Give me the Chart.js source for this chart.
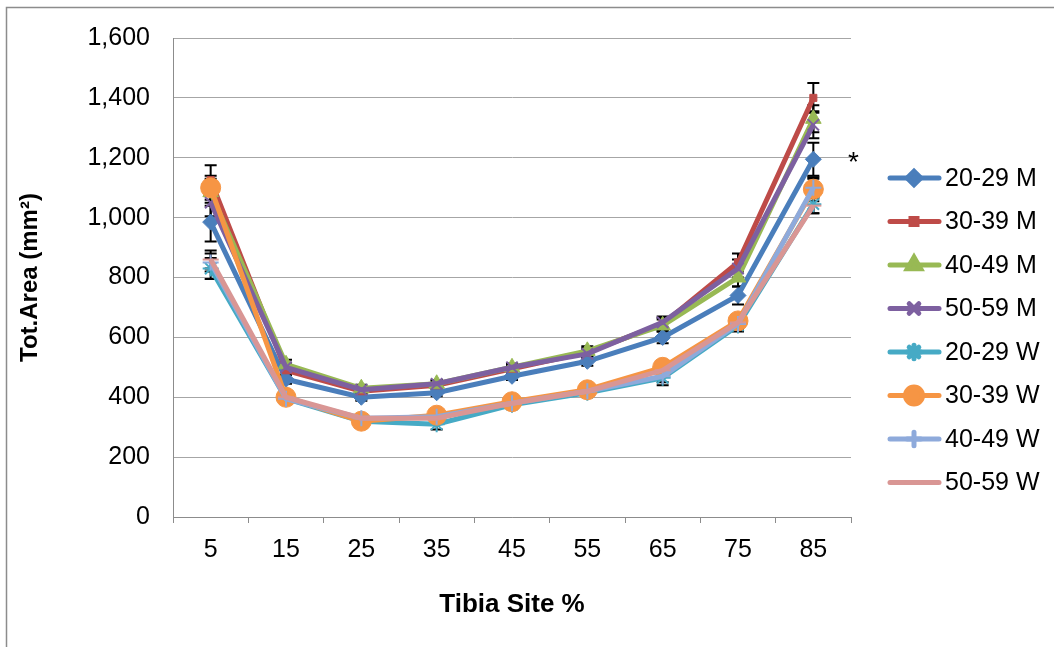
<!DOCTYPE html>
<html>
<head>
<meta charset="utf-8">
<script src="https://cdn.jsdelivr.net/npm/chart.js@4.4.0/dist/chart.umd.min.js"></script>
<style>
  body { margin: 0; background: #fff; }
  canvas { display: block; }
</style>
</head>
<body>
<canvas id="areaChart" width="1054" height="647"></canvas>
<script>
// Tibia total area by site, age group and sex
const sites = ['5', '15', '25', '35', '45', '55', '65', '75', '85'];
const groups = ['20-29 M', '30-39 M', '40-49 M', '50-59 M', '20-29 W', '30-39 W', '40-49 W', '50-59 W'];

const m2029 = [985, 460, 400, 415, 470, 520, 600, 740, 1195];
const m3039 = [1125, 490, 420, 440, 495, 550, 645, 850, 1400];
const m4049 = [1085, 510, 430, 445, 500, 555, 640, 800, 1330];
const m5059 = [1050, 500, 425, 445, 500, 545, 650, 830, 1310];
const w2029 = [830, 395, 320, 310, 375, 415, 465, 640, 1045];
const w3039 = [1100, 400, 320, 340, 385, 425, 500, 655, 1095];
const w4049 = [850, 395, 330, 335, 380, 420, 470, 645, 1100];
const w5059 = [860, 400, 330, 330, 380, 420, 490, 650, 1040];

// +/- error per point
const e2029m = [65, 15, 12, 12, 12, 15, 20, 30, 55];
const e3039m = [50, 15, 12, 12, 12, 15, 20, 30, 50];
const e4049m = [45, 15, 12, 12, 12, 15, 20, 30, 45];
const e5059m = [45, 15, 12, 12, 12, 15, 20, 30, 45];
const e2029w = [35, 12, 10, 18, 10, 12, 25, 20, 30];
const e3039w = [40, 12, 10, 12, 10, 12, 20, 20, 40];
const e4049w = [30, 12, 10, 12, 10, 12, 20, 20, 30];
const e5059w = [30, 12, 10, 12, 10, 12, 20, 20, 25];

const yTicks = { min: 0, max: 1600, step: 200 };

const series = [m2029, m3039, m4049, m5059, w2029, w3039, w4049, w5059];
const errors = [e2029m, e3039m, e4049m, e5059m, e2029w, e3039w, e4049w, e5059w];
const colors = ['#4a7ebb', '#be4b48', '#98b954', '#7d60a0', '#46aac5', '#f69544', '#8eaadb', '#d99694'];
const markers = [
  { style: 'rectRot', r: 8 },
  { style: 'rect', r: 5 },
  { style: 'triangle', r: 9 },
  { style: 'crossRot', r: 8 },
  { style: 'star', r: 8 },
  { style: 'circle', r: 10 },
  { style: 'cross', r: 8 },
  { style: 'line', r: 8 }
];

const FONT = "'Liberation Sans', Arial, sans-serif";

const errorBars = {
  id: 'errorBars',
  beforeDatasetsDraw(chart) {
    const { ctx, scales: { x, y } } = chart;
    ctx.save();
    ctx.strokeStyle = '#000';
    ctx.lineWidth = 2;
    series.forEach((vals, s) => {
      vals.forEach((v, i) => {
        const px = x.getPixelForValue(i);
        const top = y.getPixelForValue(v + errors[s][i]);
        const bot = y.getPixelForValue(v - errors[s][i]);
        ctx.beginPath();
        ctx.moveTo(px, top); ctx.lineTo(px, bot);
        ctx.moveTo(px - 6, top); ctx.lineTo(px + 6, top);
        ctx.moveTo(px - 6, bot); ctx.lineTo(px + 6, bot);
        ctx.stroke();
      });
    });
    ctx.restore();
  }
};

const frame = {
  id: 'frame',
  beforeDraw(chart) {
    const ctx = chart.ctx;
    ctx.save();
    ctx.fillStyle = '#fff';
    ctx.fillRect(0, 0, chart.width, chart.height);
    ctx.strokeStyle = '#8c8c8c';
    ctx.lineWidth = 1.5;
    ctx.strokeRect(6.5, 7.5, 1100, 700);
    ctx.restore();
  },
  afterDraw(chart) {
    const { ctx, scales: { x, y } } = chart;
    ctx.save();
    // legend
    chart.data.datasets.forEach((ds, i) => {
      const ly = 178 + i * 43.5;
      ctx.strokeStyle = ds.borderColor;
      ctx.lineWidth = 5;
      ctx.lineCap = 'round';
      ctx.beginPath();
      ctx.moveTo(890, ly); ctx.lineTo(939, ly);
      ctx.stroke();
      ctx.fillStyle = ds.pointBackgroundColor;
      ctx.strokeStyle = ds.pointBorderColor;
      Chart.helpers.drawPoint(ctx, {
        pointStyle: ds.pointStyle, radius: ds.pointRadius * 0.85, rotation: 0, borderWidth: ds.pointBorderWidth
      }, 914, ly);
      ctx.fillStyle = '#000';
      ctx.font = '25px ' + FONT;
      ctx.textAlign = 'left';
      ctx.textBaseline = 'middle';
      ctx.fillText(ds.label, 945, ly + 1);
    });
    // significance mark
    ctx.fillStyle = '#000';
    ctx.font = '28px ' + FONT;
    ctx.textAlign = 'center';
    ctx.textBaseline = 'middle';
    ctx.fillText('*', x.getPixelForValue(8) + 40, y.getPixelForValue(1180));
    ctx.restore();
  }
};

const datasets = series.map((vals, i) => ({
  label: groups[i],
  data: vals,
  borderColor: colors[i],
  borderWidth: 5,
  pointStyle: markers[i].style,
  pointRadius: markers[i].r,
  pointBackgroundColor: colors[i],
  pointBorderColor: colors[i],
  pointBorderWidth: ['rect', 'rectRot', 'triangle', 'circle'].includes(markers[i].style) ? 1 : 2,
  tension: 0,
  fill: false,
  order: 7 - i
}));

const ctx = document.getElementById('areaChart').getContext('2d');
const areaChart = new Chart(ctx, {
  type: 'line',
  data: { labels: sites, datasets: datasets },
  options: {
    responsive: false,
    animation: false,
    layout: { padding: { left: 6, top: 32, right: 203, bottom: 0 } },
    plugins: {
      legend: { display: false },
      tooltip: { enabled: false }
    },
    scales: {
      x: {
        offset: true,
        grid: { drawOnChartArea: false, drawTicks: true, tickLength: 6, offset: true, color: '#8c8c8c' },
        border: { color: '#8c8c8c', width: 1 },
        ticks: { color: '#000', font: { family: FONT, size: 25 }, padding: 12, maxRotation: 0 },
        title: { display: true, text: 'Tibia Site %', color: '#000', font: { family: FONT, size: 26, weight: 'bold' }, padding: { top: 0, bottom: 27 } },
        afterFit: scale => { scale.height = 130; }
      },
      y: {
        min: yTicks.min,
        max: yTicks.max,
        grid: { color: '#a6a6a6', drawTicks: false },
        border: { color: '#8c8c8c', width: 1 },
        ticks: { stepSize: yTicks.step, color: '#000', font: { family: FONT, size: 25 }, padding: 23 },
        title: { display: true, text: 'Tot.Area (mm²)', color: '#000', font: { family: FONT, size: 24, weight: 'bold' }, padding: { top: 10, bottom: 0 } },
        afterFit: scale => { scale.width = 167; }
      }
    }
  },
  plugins: [frame, errorBars]
});
</script>
</body>
</html>
